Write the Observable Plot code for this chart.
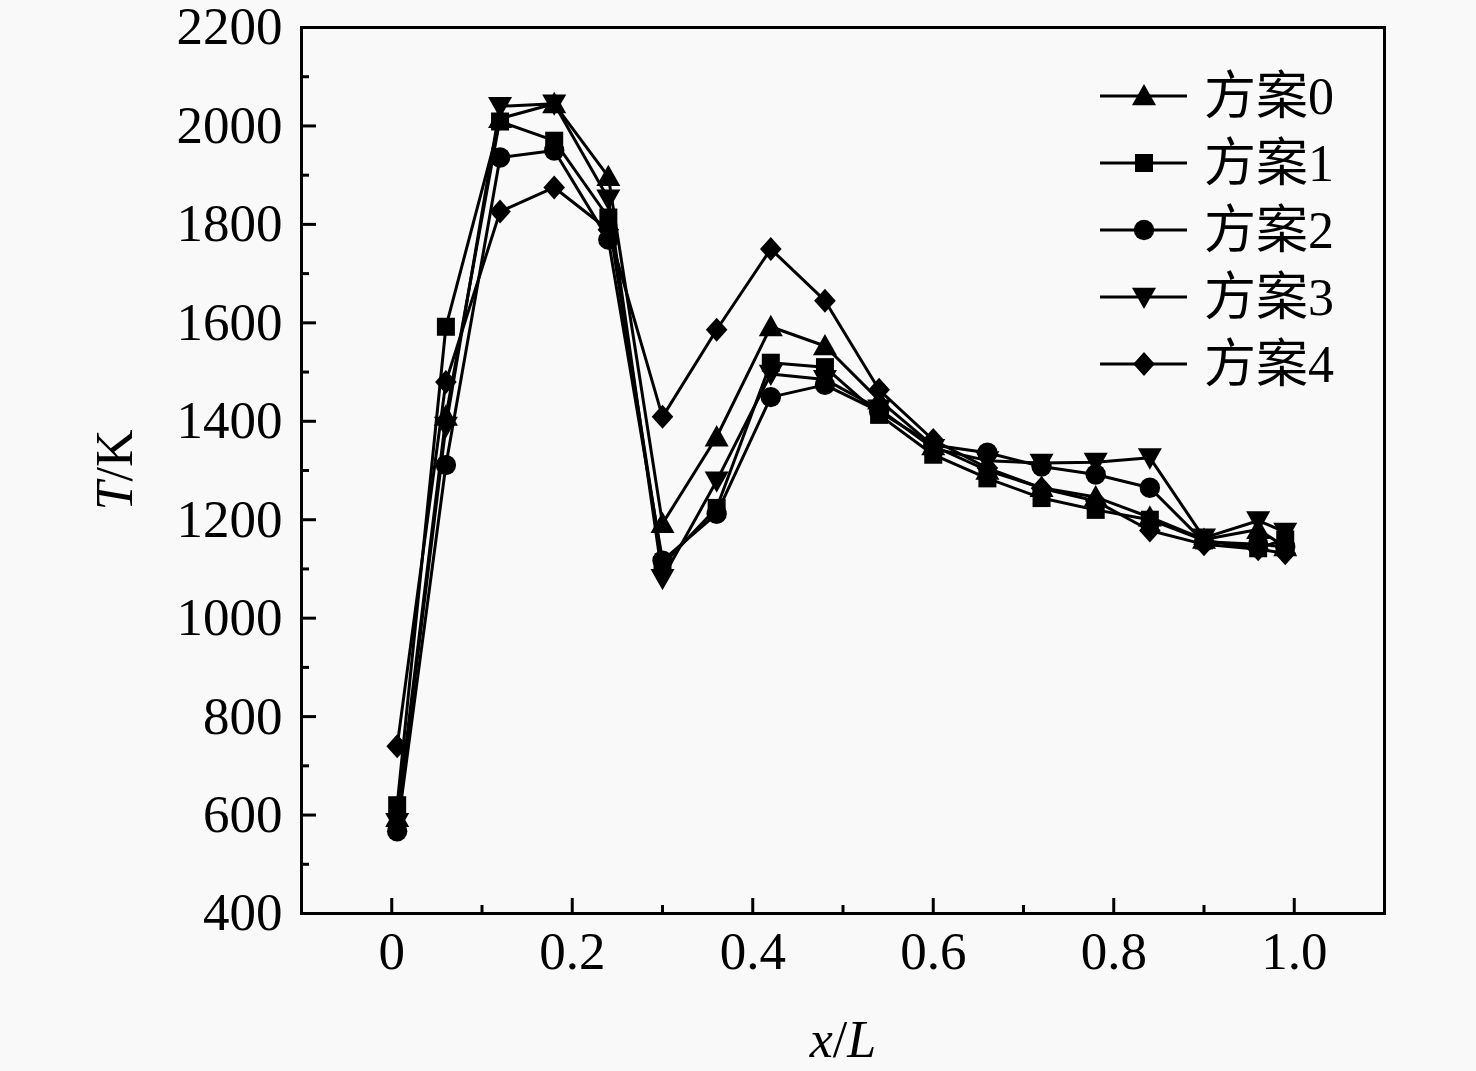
<!DOCTYPE html>
<html>
<head>
<meta charset="utf-8">
<script src="https://cdn.jsdelivr.net/npm/d3@7"></script>
<script src="https://cdn.jsdelivr.net/npm/@observablehq/plot@0.6"></script>
<style>
  html, body { margin: 0; padding: 0; background: #f9f9f9; }
  #chart { width: 1476px; height: 1071px; }
</style>
</head>
<body>
<div id="chart"></div>
<script>
const xPos = [0.006, 0.06, 0.12, 0.18, 0.24, 0.30, 0.36, 0.42, 0.48, 0.54, 0.60, 0.66, 0.72, 0.78, 0.84, 0.90, 0.96, 0.99];
const seriesNames = ["方案0", "方案1", "方案2", "方案3", "方案4"];
const s0 = [595, 1410, 2015, 2045, 1897, 1192, 1368, 1592, 1553, 1443, 1350, 1300, 1265, 1246, 1205, 1160, 1180, 1145];
const s1 = [620, 1592, 2009, 1970, 1814, 1108, 1224, 1519, 1510, 1413, 1332, 1284, 1244, 1220, 1200, 1158, 1142, 1160];
const s2 = [567, 1311, 1936, 1950, 1769, 1117, 1212, 1449, 1474, 1420, 1352, 1336, 1308, 1292, 1265, 1155, 1150, 1145];
const s3 = [585, 1390, 2040, 2045, 1852, 1081, 1279, 1496, 1485, 1425, 1345, 1320, 1315, 1317, 1326, 1163, 1198, 1175];
const s4 = [740, 1480, 1826, 1875, 1789, 1409, 1586, 1750, 1645, 1464, 1362, 1305, 1264, 1238, 1178, 1150, 1140, 1132];
const seriesValues = [s0, s1, s2, s3, s4];
const xMajor = [0, 0.2, 0.4, 0.6, 0.8, 1.0];
const xMinor = [-0.1, 0.1, 0.3, 0.5, 0.7, 0.9, 1.1];
const yMajor = [400, 600, 800, 1000, 1200, 1400, 1600, 1800, 2000, 2200];
const yMinor = [500, 700, 900, 1100, 1300, 1500, 1700, 1900, 2100];

const data = seriesNames.flatMap((name, i) =>
  xPos.map((x, j) => ({ series: name, idx: i, x, y: seriesValues[i][j] })));

// marker shapes
const triUp = { draw(c, size) { const r = Math.sqrt(size / Math.PI); c.moveTo(0, -r); c.lineTo(r, 0.78 * r); c.lineTo(-r, 0.78 * r); c.closePath(); } };
const square = { draw(c, size) { const r = Math.sqrt(size / Math.PI) * 0.75; c.rect(-r, -r, 2 * r, 2 * r); } };
const circ = { draw(c, size) { const r = Math.sqrt(size / Math.PI) * 0.85; c.moveTo(r, 0); c.arc(0, 0, r, 0, 2 * Math.PI); } };
const triDown = { draw(c, size) { const r = Math.sqrt(size / Math.PI); c.moveTo(0, r); c.lineTo(r, -0.78 * r); c.lineTo(-r, -0.78 * r); c.closePath(); } };
const diamond = { draw(c, size) { const r = Math.sqrt(size / Math.PI); c.moveTo(0, -r); c.lineTo(0.9 * r, 0); c.lineTo(0, r); c.lineTo(-0.9 * r, 0); c.closePath(); } };
const symbols = [triUp, square, circ, triDown, diamond];

const font = "'Liberation Serif', 'Times New Roman', serif";
const fmtX = d => d === 0 ? "0" : d.toFixed(1);

const chart = Plot.plot({
  width: 1476,
  height: 1071,
  marginLeft: 301,
  marginRight: 92,
  marginTop: 27,
  marginBottom: 158,
  style: { fontFamily: font, fontSize: "53px", background: "#f9f9f9", color: "#000" },
  x: { domain: [-0.1, 1.1] },
  y: { domain: [400, 2200] },
  marks: [
    Plot.axisX({ ticks: xMajor, tickSize: 0, tickPadding: 18, tickFormat: fmtX, fontSize: 53, label: null }),
    Plot.axisX({ ticks: xMajor, tickSize: -15, strokeWidth: 3, tickFormat: () => "", label: null }),
    Plot.axisX({ ticks: xMinor, tickSize: -8, strokeWidth: 3, tickFormat: () => "", label: null }),
    Plot.axisY({ ticks: yMajor, tickSize: 0, tickPadding: 19, tickFormat: d => String(d), fontSize: 53, label: null }),
    Plot.axisY({ ticks: yMajor, tickSize: -15, strokeWidth: 3, tickFormat: () => "", label: null }),
    Plot.axisY({ ticks: yMinor, tickSize: -8, strokeWidth: 3, tickFormat: () => "", label: null }),
    Plot.line(data, { x: "x", y: "y", z: "series", stroke: "black", strokeWidth: 3 }),
    ...seriesNames.map((name, i) =>
      Plot.dot(data.filter(d => d.idx === i), { x: "x", y: "y", symbol: symbols[i], r: 12, fill: "black", stroke: "none" })),
    Plot.frame({ stroke: "black", strokeWidth: 3 })
  ]
});

document.getElementById("chart").appendChild(chart);

// axis titles with italics and legend
const svg = d3.select(chart);
const yt = svg.append("text")
  .attr("transform", "translate(132,470) rotate(-90)")
  .attr("text-anchor", "middle")
  .attr("font-family", font).attr("font-size", 52).attr("fill", "black");
yt.append("tspan").attr("font-style", "italic").text("T");
yt.append("tspan").text("/K");

const xt = svg.append("text")
  .attr("x", 843).attr("y", 1057)
  .attr("text-anchor", "middle")
  .attr("font-family", font).attr("font-size", 52).attr("fill", "black");
xt.append("tspan").attr("font-style", "italic").text("x");
xt.append("tspan").text("/");
xt.append("tspan").attr("font-style", "italic").text("L");

const legend = svg.append("g").attr("text-anchor", "start");
seriesNames.forEach((name, i) => {
  const cy = 96 + i * 67;
  legend.append("line").attr("x1", 1100).attr("x2", 1187).attr("y1", cy).attr("y2", cy)
    .attr("stroke", "black").attr("stroke-width", 3);
  legend.append("path").attr("transform", `translate(1144,${cy})`)
    .attr("d", d3.symbol(symbols[i], Math.PI * 144)()).attr("fill", "black");
  legend.append("text").attr("x", 1204).attr("y", cy).attr("dy", "0.35em")
    .attr("text-anchor", "start")
    .attr("font-family", font + ", 'Noto Sans CJK SC'").attr("font-size", 52).attr("fill", "black")
    .text(name);
});
</script>
</body>
</html>
